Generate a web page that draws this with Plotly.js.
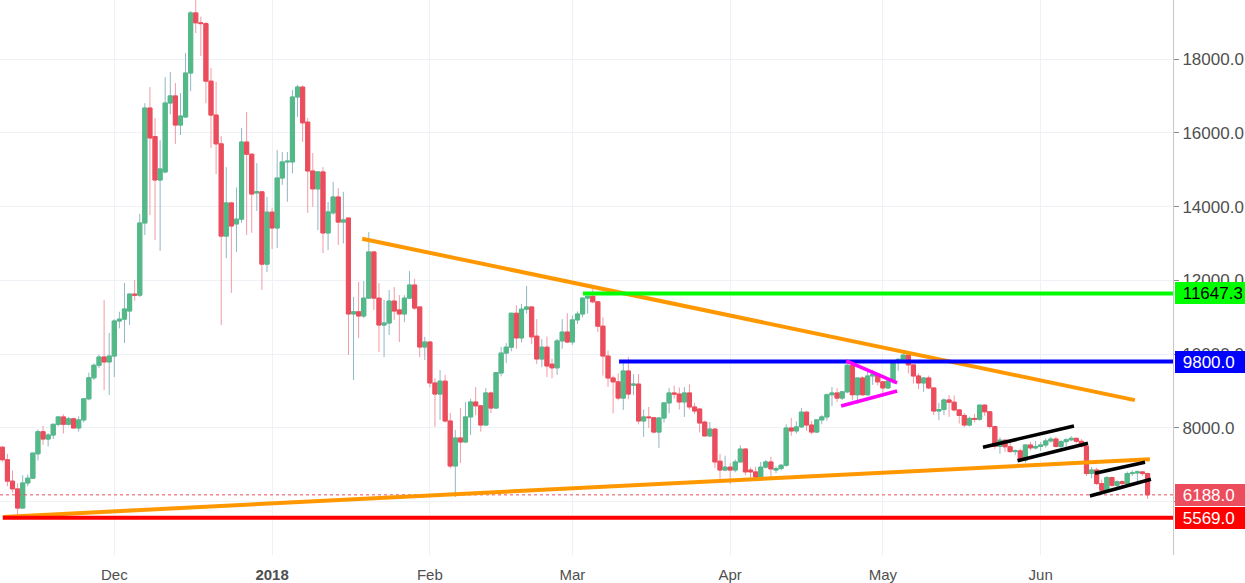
<!DOCTYPE html>
<html>
<head>
<meta charset="utf-8">
<script src="https://cdn.plot.ly/plotly-3.0.1.min.js"></script>
<style>
html,body{margin:0;padding:0;background:#ffffff;}
#chart{width:1245px;height:583px;}
</style>
</head>
<body>
<div id="chart"></div>
<script>
// ---- categories: first day of each monthly block ----
const monthStarts = ['2017-11-09','2017-12-01','2018-01-01','2018-02-01','2018-03-01','2018-04-01','2018-05-01','2018-06-01'];

// ---- daily candles [open, high, low, close] ----
const nov2017 = [
[7480,7500,7080,7140],[7140,7300,6420,6560],[6560,6850,6250,6350],[6350,6500,5520,5830],
[5830,6720,5820,6510],[6510,6740,6420,6640],[6640,7330,6620,7320],[7300,7960,7120,7900],
[7900,8060,7540,7700],[7700,7860,7500,7810],[7810,8120,7700,8100],[8100,8320,8050,8300],
[8300,8370,7850,8100],[8100,8300,8070,8250],[8250,8280,7990,8000],[8000,8320,7900,8220],
[8220,8800,8150,8790],[8790,9500,8750,9360],[9360,9750,9300,9700],[9700,9990,9620,9924],
[9924,11470,9030,9790],[9790,10575,8894,9950]
];
const dec2017 = [
[9950,10950,9380,10900],[10900,11150,10700,10950],[10950,11930,10300,11225],[11170,11650,10790,11630],
[11630,12010,11450,11600],[11600,13800,11550,13556],[13556,16800,13230,16672],[16672,17240,13770,15860],
[15900,16400,13095,14720],[14720,15800,12800,15020],[14940,17510,14900,16807],[16807,17650,16500,17000],
[17000,17350,15700,16210],[16210,17080,15940,16455],[16430,18160,16400,17620],[17620,19300,17130,19250],
[19250,19700,18700,18980],[18980,19150,18080,18960],[18960,19000,16800,17400],[17400,17760,15590,16480],
[16480,17380,14880,15700],[15700,15910,10790,13200],[13200,15070,12600,14100],[14100,14130,11660,13475],
[13530,14520,12770,13660],[13660,16130,13560,15750],[15750,16560,13230,15420],[15420,15450,13290,14340],
[14370,15180,13880,14400],[14400,14420,11740,12440],[12440,14260,12230,13850]
];
const jan2018 = [
[13850,13960,12850,13420],[13420,15530,12880,14775],[14775,15480,14590,15210],[15210,15480,14130,15230],
[15210,17160,14900,16970],[16970,17300,16430,17240],[17240,17280,15750,16270],[16290,16400,13830,14965],
[14965,15450,13990,14480],[14480,14960,13365,14940],[14940,15070,12740,13285],[13285,14125,12820,13855],
[13830,14670,13780,14260],[14260,14500,12960,13580],[13580,14400,13000,13640],[13690,13700,9980,11090],
[11090,11550,9300,11150],[11150,11960,10440,11035],[11035,11980,10980,11520],[11520,13310,11500,12770],
[12770,12790,11200,11520],[11520,11930,10060,10790],[10790,11470,9920,10845],[10845,11740,10520,11440],
[11440,11820,10930,11170],[11200,11600,10330,11090],[11090,11600,10870,11520],[11520,12250,11500,11875],
[11875,12040,11200,11250],[11280,11300,9920,10195],[10195,10470,9840,10330]
];
const feb2018 = [
[10330,10350,9100,9220],[9220,9350,8030,8920],[8920,9570,8220,9270],[9270,9440,8150,8190],
[8190,8410,6900,6970],[6970,7950,6130,7730],[7730,8540,7050,7620],[7620,8700,7600,8300],
[8300,8790,7810,8705],[8705,9110,8350,8600],[8600,8620,7900,8080],[8080,9080,8070,8950],
[8950,8990,8400,8540],[8540,9520,8530,9500],[9490,10200,9400,10030],[10030,10300,9760,10190],
[10190,11120,10080,11110],[11110,11330,10150,10440],[10440,11360,10320,11220],[11220,11850,11100,11280],
[11280,11300,10270,10470],[10490,10950,9730,9870],[9870,10410,9650,10190],[10190,10480,9380,9680],
[9730,9880,9350,9630],[9630,10420,9440,10360],[10360,10950,10150,10600],[10600,11110,10300,10330]
];
const mar2018 = [
[10330,11050,10250,10930],[10930,11160,10820,11090],[11090,11540,11000,11520],[11520,11600,11100,11570],
[11570,11790,11380,11420],[11420,11420,10600,10760],[10760,11000,9420,9950],[9950,10100,9110,9355],
[9355,9420,8400,9250],[9250,9480,8750,8810],[8810,9790,8490,9545],[9545,9920,8780,8920],
[9160,9460,8890,9190],[9190,9460,8100,8190],[8190,8500,7760,8300],[8300,8570,8000,8280],
[8280,8300,7850,7890],[7890,8300,7460,8270],[8270,8700,8150,8680],[8680,9080,8400,8950],
[8950,9150,8800,8920],[8920,9100,8500,8705],[8705,9110,8300,8950],[8950,9180,8500,8570],
[8570,8680,8380,8460],[8515,8530,7880,8135],[8160,8200,7780,7785],[7785,8160,7750,7970],
[7970,7990,6920,7080],[7100,7300,6620,6860],[6860,7250,6850,6940]
];
const apr2018 = [
[6940,7050,6480,6860],[6860,7150,6800,7080],[7080,7530,7060,7430],[7430,7440,6720,6810],
[6860,6930,6620,6810],[6810,6950,6580,6670],[6670,7080,6650,6940],[6940,7130,6900,7080],
[7080,7220,6650,6890],[6860,6960,6780,6900],[6900,7020,6850,6990],[6990,8100,6950,8000],
[8000,8270,7790,7920],[7920,8180,7850,8030],[8030,8540,8000,8430],[8430,8460,7920,8080],
[8080,8190,7830,7890],[7890,8230,7870,8220],[8220,8350,8100,8300],[8300,8930,8200,8900],
[8900,9110,8600,8950],[8950,9080,8700,8810],[8810,9000,8760,8980],[8980,9730,8940,9700],
[9700,9800,8750,8900],[8900,9350,8650,9355],[9355,9400,8880,8900],[8900,9600,8880,9410],
[9410,9580,9170,9460],[9460,9480,9150,9250]
];
const may2018 = [
[9250,9260,8870,9085],[9085,9290,9050,9275],[9275,9820,9200,9815],[9815,9900,9550,9860],
[9860,10060,9780,9975],[9975,9990,9480,9710],[9710,9720,9200,9410],[9410,9480,9050,9220],
[9220,9380,8980,9355],[9355,9420,9050,9085],[9085,9100,8350,8460],[8460,8680,8210,8500],
[8500,8800,8350,8760],[8760,8890,8300,8700],[8700,8880,8450,8490],[8490,8520,8120,8340],
[8340,8400,8020,8080],[8080,8310,8040,8260],[8260,8380,8150,8236],[8236,8630,8200,8620],
[8620,8640,8330,8440],[8440,8460,7980,8040],[8040,8050,7430,7500],[7500,7750,7300,7670],
[7670,7680,7350,7490],[7490,7620,7330,7360],[7360,7420,7260,7380],[7380,7440,7080,7130],
[7130,7560,7060,7540],[7540,7620,7390,7460],[7460,7650,7420,7500]
];
const jun2018 = [
[7500,7620,7380,7540],[7540,7720,7470,7650],[7650,7760,7600,7700],[7700,7760,7470,7500],
[7500,7680,7400,7630],[7630,7720,7460,7680],[7680,7780,7640,7720],[7720,7740,7580,7640],
[7640,7700,7470,7510],[7510,7510,6700,6765],[6765,6950,6640,6862],[6862,6920,6450,6494],
[6494,6600,6250,6314],[6314,6700,6280,6657],[6657,6680,6400,6446],[6446,6580,6380,6545],
[6545,6580,6430,6494],[6494,6820,6430,6765],[6765,6850,6700,6782],[6782,6850,6560,6810],
[6810,6830,6700,6765],[6765,6790,6080,6188]
];
const monthBlocks = [nov2017, dec2017, jan2018, feb2018, mar2018, apr2018, may2018, jun2018];

// ---- drawn lines (date, price) ----
const upperTrendX = ['2018-01-18 17:00','2018-06-19 12:00'], upperTrendY = [13130, 8755];
const lowerTrendX = ['2017-11-09 03:00','2018-06-22 11:00'], lowerTrendY = [5590, 7150];
const resistLevel = 11647.3, resistStart = '2018-03-03 02:00';
const midLevel = 9800.0, midStart = '2018-03-10 04:00';
const supportLevel = 5569.0, supportStart = '2017-11-09 02:00';
const lastPrice = 6188.0;
const pennantUpX = ['2018-04-23 19:00','2018-05-03 19:00'], pennantUpY = [9816, 9220];
const pennantLoX = ['2018-04-22 19:00','2018-05-03 19:00'], pennantLoY = [8597, 9003];
const flag1UpX = ['2018-05-20 16:00','2018-06-07 13:00'], flag1UpY = [7477, 8054];
const flag1LoX = ['2018-05-27 11:00','2018-06-10 07:00'], flag1LoY = [7114, 7585];
const flag2UpX = ['2018-06-11 16:00','2018-06-21 12:00'], flag2UpY = [6773, 7071];
const flag2LoX = ['2018-06-10 16:00','2018-06-22 16:00'], flag2LoY = [6158, 6610];

// ---- axis ticks ----
const xTickVals = ['2017-12-01','2018-01-01','2018-02-01','2018-03-01','2018-04-01','2018-05-01','2018-06-01'];
const xTickText = ['Dec','<b>2018</b>','Feb','Mar','Apr','May','Jun'];
const yTickVals = [6000, 8000, 10000, 12000, 14000, 16000, 18000];
const yTickText = ['', '8000.0', '10000.0', '12000.0', '14000.0', '16000.0', '18000.0'];

// ---- build series ----
function dayStr(start, i){
  const p = start.split('-').map(Number);
  const d = new Date(Date.UTC(p[0], p[1]-1, p[2] + i));
  return d.toISOString().slice(0,10);
}
const X=[], O=[], H=[], L=[], C=[];
monthBlocks.forEach((blk, m) => {
  blk.forEach((r, i) => {
    X.push(dayStr(monthStarts[m], i));
    O.push(r[0]); H.push(r[1]); L.push(r[2]); C.push(r[3]);
  });
});
const bodyHi = O.map((o,i)=>Math.max(o,C[i]));
const bodyLo = O.map((o,i)=>Math.min(o,C[i]));

const UP='#53b987', DOWN='#eb4d5c', UPWICK='#92b6c4', DOWNWICK='#f29aa4';
const xStart = '2017-11-08 13:03', xEnd = '2018-06-27 00:00', farEnd = '2018-07-20';
const FONT = 'Liberation Sans, Arial, sans-serif';

const traces = [
  {type:'candlestick', x:X, open:O, high:H, low:L, close:C, hoverinfo:'skip',
   increasing:{line:{color:UPWICK,width:1}, fillcolor:'rgba(0,0,0,0)'},
   decreasing:{line:{color:DOWNWICK,width:1}, fillcolor:'rgba(0,0,0,0)'}},
  {type:'candlestick', x:X, open:O, high:bodyHi, low:bodyLo, close:C, hoverinfo:'skip',
   increasing:{line:{color:UP,width:1}, fillcolor:UP},
   decreasing:{line:{color:DOWN,width:1}, fillcolor:DOWN}}
];
function line(x, y, color, width, dash){
  traces.push({type:'scatter', mode:'lines', x:x, y:y, hoverinfo:'skip',
    line:{color:color, width:width, dash:dash||'solid'}});
}
line([xStart, farEnd], [lastPrice, lastPrice], '#eb4d5c', 1, 'dot');
line(upperTrendX, upperTrendY, '#ff9800', 4);
line(lowerTrendX, lowerTrendY, '#ff9800', 4);
line([resistStart, farEnd], [resistLevel, resistLevel], '#00ff00', 4);
line([midStart, farEnd], [midLevel, midLevel], '#0000ff', 4);
line([supportStart, farEnd], [supportLevel, supportLevel], '#ff0000', 4);
line(pennantUpX, pennantUpY, '#ff00ff', 3.5);
line(pennantLoX, pennantLoY, '#ff00ff', 3.5);
line(flag1UpX, flag1UpY, '#000000', 3.5);
line(flag1LoX, flag1LoY, '#000000', 3.5);
line(flag2UpX, flag2UpY, '#000000', 3.5);
line(flag2LoX, flag2LoY, '#000000', 3.5);

function priceLabel(v, bg, fg){
  return {xref:'paper', yref:'y', x:1, y:v, xanchor:'left', yanchor:'middle', xshift:2,
    text:'\u00a0'+v.toFixed(1), showarrow:false, bgcolor:bg, borderpad:3, borderwidth:0,
    width:64, height:16, align:'left', valign:'middle',
    font:{family:FONT, size:17, color:fg}};
}

const layout = {
  width:1245, height:583,
  margin:{l:0, r:72, t:0, b:28, pad:0},
  paper_bgcolor:'#ffffff', plot_bgcolor:'#ffffff',
  showlegend:false, hovermode:false,
  boxgap:0.1, boxgroupgap:0.1,
  xaxis:{type:'date', range:[xStart, xEnd], rangeslider:{visible:false},
    tickmode:'array', tickvals:xTickVals, ticktext:xTickText,
    showgrid:true, gridcolor:'#eef2f6', gridwidth:1, zeroline:false, showline:false,
    ticks:'outside', ticklen:6, tickcolor:'rgba(0,0,0,0)',
    tickfont:{family:FONT, size:15, color:'#4f4f4f'}, fixedrange:true},
  yaxis:{side:'right', range:[4558, 19599], tickmode:'array', tickvals:yTickVals,
    ticktext:yTickText,
    showgrid:true, gridcolor:'#eef2f6', gridwidth:1, zeroline:false,
    showline:true, linecolor:'#c8c8c8', linewidth:1,
    ticks:'outside', ticklen:5, tickcolor:'#8a8a8a',
    tickfont:{family:FONT, size:17, color:'#4f4f4f'}, fixedrange:true},
  annotations:[
    priceLabel(resistLevel, '#00ff00', '#000000'),
    priceLabel(midLevel, '#0000ff', '#ffffff'),
    priceLabel(lastPrice, '#eb4d5c', '#ffffff'),
    priceLabel(supportLevel, '#ff0000', '#ffffff')
  ]
};

Plotly.newPlot('chart', traces, layout, {staticPlot:true, displayModeBar:false});
</script>
</body>
</html>
